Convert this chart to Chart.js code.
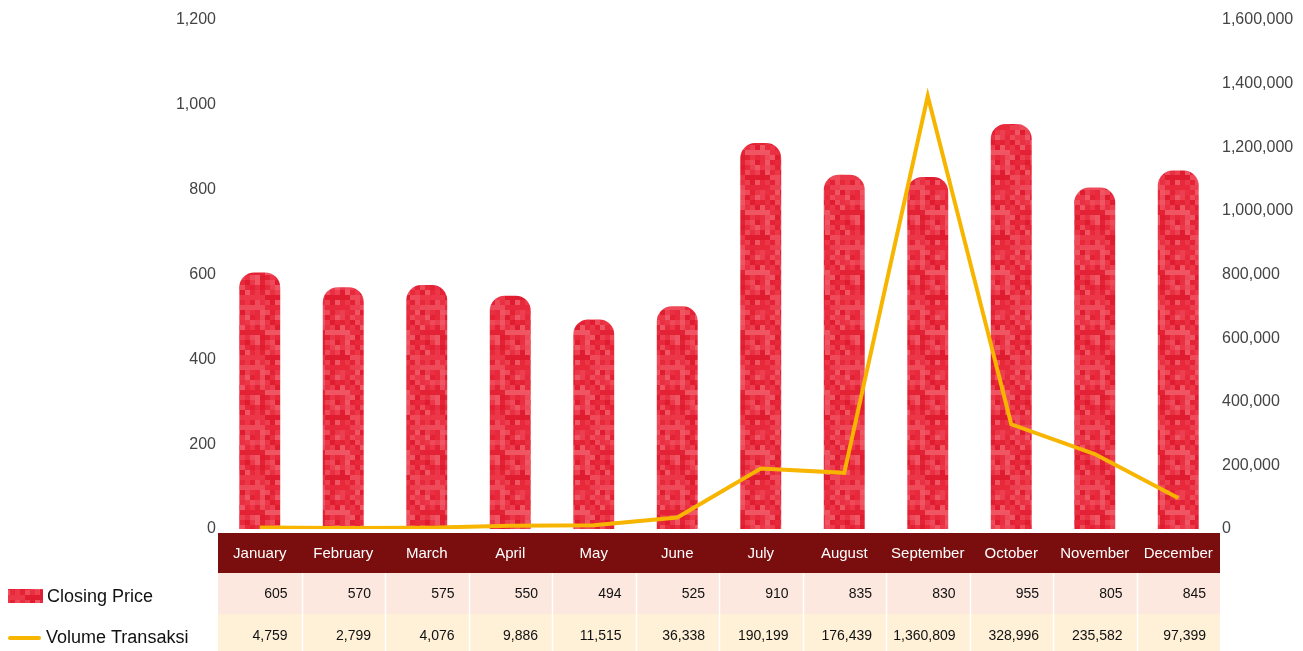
<!DOCTYPE html>
<html>
<head>
<meta charset="utf-8">
<script src="https://cdn.jsdelivr.net/npm/chart.js@4/dist/chart.umd.min.js"></script>
<style>
  html, body { margin: 0; padding: 0; background: #fff; }
  #wrap { width: 1303px; height: 651px; position: relative; }
</style>
</head>
<body>
<div id="wrap"><canvas id="priceChart" width="1303" height="651"></canvas></div>
<script>
const months = ['January', 'February', 'March', 'April', 'May', 'June', 'July', 'August', 'September', 'October', 'November', 'December'];
const closingPrice = [605, 570, 575, 550, 494, 525, 910, 835, 830, 955, 805, 845];
const volume = [4759, 2799, 4076, 9886, 11515, 36338, 190199, 176439, 1360809, 328996, 235582, 97399];
const leftTicks = [0, 200, 400, 600, 800, 1000, 1200];
const rightTicks = [0, 200000, 400000, 600000, 800000, 1000000, 1200000, 1400000, 1600000];

const FONT = '"Liberation Sans", Arial, sans-serif';
const RED_SHADES = ['#e8293b', '#eb3747', '#e42236', '#ee4a5a', '#e93043', '#ec4051', '#e01c30', '#f05563'];
const GOLD = '#f7b500';

// checker texture for the bars
function makeTexture() {
  const cell = 5, n = 12;
  const c = document.createElement('canvas');
  c.width = c.height = cell * n;
  const g = c.getContext('2d');
  for (let i = 0; i < n; i++) {
    for (let j = 0; j < n; j++) {
      const h = ((i * 7 + j * 13 + (i * j) % 5) * 31) % RED_SHADES.length;
      g.fillStyle = RED_SHADES[h];
      g.fillRect(i * cell, j * cell, cell, cell);
    }
  }
  return g.createPattern(c, 'repeat');
}
const texture = makeTexture();

const fmt = v => v.toLocaleString('en-US');

const tablePlugin = {
  id: 'dataTable',
  afterDraw(chart) {
    const ctx = chart.ctx;
    const x = chart.scales.x;
    const left = chart.chartArea.left, right = chart.chartArea.right;
    const colW = (right - left) / months.length;
    const rows = [
      { top: 533, h: 40, ty: 554 },
      { top: 573, h: 41, ty: 594, bg: '#fde8e0', data: closingPrice },
      { top: 614, h: 37, ty: 636, bg: '#fff0d8', data: volume }
    ];
    ctx.save();
    // header
    ctx.fillStyle = '#7a0e0e';
    ctx.fillRect(left, rows[0].top, right - left, rows[0].h);
    ctx.fillStyle = '#ffffff';
    ctx.font = '15px ' + FONT;
    ctx.textAlign = 'center';
    ctx.textBaseline = 'middle';
    months.forEach((m, i) => {
      ctx.fillText(m, x.getPixelForValue(i), rows[0].ty);
    });
    // body rows
    ctx.font = '14px ' + FONT;
    for (let r = 1; r < rows.length; r++) {
      const row = rows[r];
      ctx.fillStyle = row.bg;
      ctx.fillRect(left, row.top, right - left, row.h);
      ctx.fillStyle = '#111';
      ctx.textAlign = 'right';
      row.data.forEach((v, i) => {
        ctx.fillText(fmt(v), left + colW * (i + 1) - 14, row.ty);
      });
    }
    // column separators
    ctx.strokeStyle = '#ffffff';
    ctx.lineWidth = 1.5;
    for (let i = 1; i < months.length; i++) {
      const cx = Math.round(left + colW * i) + 0.5;
      ctx.beginPath();
      ctx.moveTo(cx, rows[1].top);
      ctx.lineTo(cx, 651);
      ctx.stroke();
    }
    // legend
    ctx.fillStyle = texture;
    ctx.fillRect(8, 589, 35, 14);
    ctx.fillStyle = '#111';
    ctx.textAlign = 'left';
    ctx.font = '18px ' + FONT;
    ctx.fillText('Closing Price', 47, 597);
    ctx.strokeStyle = GOLD;
    ctx.lineWidth = 4;
    ctx.lineCap = 'round';
    ctx.beginPath();
    ctx.moveTo(10, 638);
    ctx.lineTo(39, 638);
    ctx.stroke();
    ctx.fillText('Volume Transaksi', 46, 638);
    ctx.restore();
  }
};

new Chart(document.getElementById('priceChart'), {
  data: {
    labels: months,
    datasets: [
      {
        type: 'line',
        label: 'Volume Transaksi',
        data: volume,
        yAxisID: 'y1',
        borderColor: GOLD,
        borderWidth: 4,
        pointRadius: 0,
        tension: 0,
        order: 0
      },
      {
        type: 'bar',
        label: 'Closing Price',
        data: closingPrice,
        yAxisID: 'y',
        backgroundColor: texture,
        borderRadius: { topLeft: 15, topRight: 15 },
        borderSkipped: 'bottom',
        barPercentage: 0.49,
        categoryPercentage: 1,
        order: 1
      }
    ]
  },
  options: {
    responsive: false,
    animation: false,
    devicePixelRatio: 1,
    layout: { padding: { top: 20, bottom: 122, left: 0, right: 0 } },
    plugins: { legend: { display: false }, tooltip: { enabled: false } },
    scales: {
      x: { display: false, offset: true },
      y: {
        position: 'left',
        min: 0, max: 1200,
        afterBuildTicks: s => { s.ticks = leftTicks.map(v => ({ value: v })); },
        afterFit: s => { s.width = 218; },
        grid: { display: false, drawTicks: false },
        border: { display: false },
        ticks: { color: '#444', font: { family: FONT, size: 16 }, padding: 2, callback: v => fmt(v) }
      },
      y1: {
        position: 'right',
        min: 0, max: 1600000,
        afterBuildTicks: s => { s.ticks = rightTicks.map(v => ({ value: v })); },
        afterFit: s => { s.width = 83; },
        grid: { display: false, drawTicks: false },
        border: { display: false },
        ticks: { color: '#444', font: { family: FONT, size: 16 }, padding: 2, callback: v => fmt(v) }
      }
    }
  },
  plugins: [tablePlugin]
});
</script>
</body>
</html>
